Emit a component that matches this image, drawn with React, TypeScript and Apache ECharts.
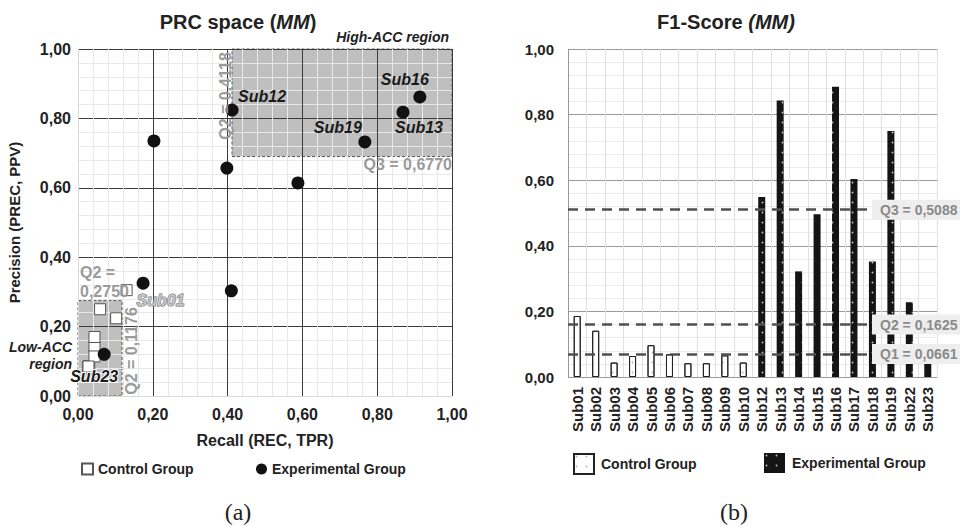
import React, { useEffect, useRef } from "react";
import * as echarts from "echarts";

const FONT = "'Liberation Sans', Arial, Helvetica, sans-serif";

// ---- PRC space data ----
const controlNames = ["Sub01", "Sub02", "Sub03", "Sub04", "Sub05", "Sub06", "Sub07", "Sub08", "Sub09", "Sub10"];
const controlRecall = [0.13, 0.102, 0.028, 0.044, 0.059, 0.044, 0.028, 0.03, 0.044, 0.028];
const controlPrecision = [0.305, 0.224, 0.085, 0.142, 0.25, 0.17, 0.085, 0.08, 0.114, 0.085];

const expNames = ["Sub12", "Sub13", "Sub14", "Sub15", "Sub16", "Sub17", "Sub18", "Sub19", "Sub22", "Sub23"];
const expRecall = [0.412, 0.869, 0.203, 0.398, 0.914, 0.588, 0.41, 0.767, 0.174, 0.07];
const expPrecision = [0.824, 0.818, 0.735, 0.657, 0.862, 0.614, 0.303, 0.732, 0.325, 0.12];

const highAccX = [0.4118, 1.0];
const highAccY = [0.69, 1.0];
const lowAccX = [0, 0.1176];
const lowAccY = [0, 0.275];

// ---- F1 data ----
const subjects = [...controlNames, ...expNames];
const f1Control = [0.186, 0.141, 0.044, 0.064, 0.097, 0.069, 0.042, 0.042, 0.066, 0.044];
const f1Exp = [0.549, 0.843, 0.322, 0.496, 0.885, 0.604, 0.352, 0.75, 0.228, 0.092];
const quartileNames = ["Q3", "Q2", "Q1"];
const quartileValues = [0.5088, 0.1625, 0.0661];

const comma = (v: number, d = 2) => v.toFixed(d).replace(".", ",");

const labelOffsets: Record<string, number[]> = {
  Sub12: [30, -14],
  Sub16: [-15, -17],
  Sub13: [16, 15],
  Sub19: [-27, -14],
  Sub23: [-10, 22],
  Sub01: [34, 10],
};

export default function App() {
  const ref = useRef<HTMLDivElement>(null);
  useEffect(() => {
    if (!ref.current) return;
    const chart = echarts.init(ref.current, null, { renderer: "svg" });

    const gray = "#9a9a9a";
    const darkLine = "#3a3a3a";
    const axisLabel = {
      fontFamily: FONT,
      fontWeight: "bold",
      fontSize: 16,
      color: "#222",
      formatter: (v: number) => comma(v),
    };

    const controlData = controlRecall.map((r, i) => {
      const n = controlNames[i];
      const d: any = { value: [r, controlPrecision[i]], name: n };
      if (labelOffsets[n]) {
        d.label = {
          show: true,
          position: "inside",
          offset: labelOffsets[n],
          formatter: n,
          fontFamily: FONT,
          fontStyle: "italic",
          fontWeight: "bold",
          fontSize: 16,
          color: "#c4c4c4",
          textBorderColor: "#6a6a6a",
          textBorderWidth: 1,
        };
      }
      return d;
    });
    const expData = expRecall.map((r, i) => {
      const n = expNames[i];
      const d: any = { value: [r, expPrecision[i]], name: n };
      if (labelOffsets[n]) {
        d.label = {
          show: true,
          position: "inside",
          offset: labelOffsets[n],
          formatter: n,
          fontFamily: FONT,
          fontStyle: "italic",
          fontWeight: "bold",
          fontSize: 16,
          color: "#1a1a1a",
          textBorderColor: n === "Sub23" ? "#fff" : "transparent",
          textBorderWidth: n === "Sub23" ? 2 : 0,
        };
      }
      return d;
    });

    const catSplitColors = subjects.map((_, i) => (i === 0 ? "#999" : "#e0e0e0"));
    catSplitColors.push("#e0e0e0");

    const annot = (text: string, x: number, y: number, extra: any = {}) => ({
      type: "text",
      x,
      y,
      z: 100,
      style: {
        text,
        fontFamily: FONT,
        fontWeight: "bold",
        fontSize: 16,
        fill: gray,
        textAlign: "left",
        textVerticalAlign: "middle",
        ...extra,
      },
    });

    const option: any = {
      animation: false,
      backgroundColor: "#fff",
      grid: [
        { left: 78, top: 49, width: 374, height: 347 },
        { left: 568, top: 49, width: 369, height: 328 },
      ],
      xAxis: [
        {
          gridIndex: 0,
          type: "value",
          min: 0,
          max: 1,
          interval: 0.2,
          z: 3,
          axisLine: { show: false },
          axisTick: { show: false },
          axisLabel: { ...axisLabel, margin: 10 },
          splitLine: { show: true, lineStyle: { color: ["#d8d8d8", darkLine, darkLine, darkLine, darkLine, darkLine], width: 1 } },
          minorTick: { show: false, splitNumber: 5 },
          minorSplitLine: { show: true, lineStyle: { color: "#e8e8e8", width: 1 } },
          name: "Recall (REC, TPR)",
          nameLocation: "middle",
          nameGap: 36,
          nameTextStyle: { fontFamily: FONT, fontWeight: "bold", fontSize: 16, color: "#222" },
        },
        {
          gridIndex: 1,
          type: "category",
          data: subjects,
          axisLine: { show: false },
          axisTick: { show: false },
          axisLabel: {
            rotate: 90,
            interval: 0,
            margin: 10,
            fontFamily: FONT,
            fontWeight: "bold",
            fontSize: 15,
            color: "#222",
          },
          splitLine: { show: true, interval: 0, lineStyle: { color: catSplitColors, width: 1 } },
        },
      ],
      yAxis: [
        {
          gridIndex: 0,
          type: "value",
          min: 0,
          max: 1,
          interval: 0.2,
          z: 3,
          axisLine: { show: false },
          axisTick: { show: false },
          axisLabel: { ...axisLabel, margin: 7 },
          splitLine: { show: true, lineStyle: { color: ["#d8d8d8", darkLine, darkLine, darkLine, darkLine, darkLine], width: 1 } },
          minorTick: { show: false, splitNumber: 5 },
          minorSplitLine: { show: true, lineStyle: { color: "#e8e8e8", width: 1 } },
          name: "Precision (PREC, PPV)",
          nameLocation: "middle",
          nameGap: 56,
          nameTextStyle: { fontFamily: FONT, fontWeight: "bold", fontSize: 15, color: "#222" },
        },
        {
          gridIndex: 1,
          type: "value",
          min: 0,
          max: 1,
          interval: 0.2,
          axisLine: { show: false },
          axisTick: { show: false },
          axisLabel: { ...axisLabel, fontSize: 15, margin: 14 },
          splitLine: { show: true, lineStyle: { color: "#9a9a9a", width: 1 } },
          minorTick: { show: false, splitNumber: 5 },
          minorSplitLine: { show: true, lineStyle: { color: "#ececec", width: 1 } },
        },
      ],
      legend: [
        {
          data: ["Control Group"],
          left: 76,
          top: 457,
          itemWidth: 11,
          itemHeight: 11,
          textStyle: { fontFamily: FONT, fontWeight: "bold", fontSize: 14, color: "#222" },
          selectedMode: false,
        },
        {
          data: ["Experimental Group"],
          left: 251,
          top: 457,
          itemWidth: 11,
          itemHeight: 11,
          textStyle: { fontFamily: FONT, fontWeight: "bold", fontSize: 14, color: "#222" },
          selectedMode: false,
        },
        {
          data: [{ name: "barControl", icon: "rect" }],
          left: 568,
          top: 448,
          itemWidth: 20,
          itemHeight: 20,
          formatter: () => "Control Group",
          textStyle: { fontFamily: FONT, fontWeight: "bold", fontSize: 14, color: "#222", padding: [0, 0, 0, 2] },
          selectedMode: false,
        },
        {
          data: [{ name: "barExp", icon: "rect" }],
          left: 759,
          top: 448,
          itemWidth: 21,
          itemHeight: 20,
          formatter: () => "Experimental Group",
          textStyle: { fontFamily: FONT, fontWeight: "bold", fontSize: 14, color: "#222", padding: [0, 0, 0, 2] },
          selectedMode: false,
        },
      ],
      series: [
        {
          name: "regions",
          type: "scatter",
          xAxisIndex: 0,
          yAxisIndex: 0,
          data: [],
          z: 1,
          silent: true,
          markArea: {
            silent: true,
            itemStyle: { color: "#bfbfbf", borderColor: "#555", borderType: [3, 2], borderWidth: 1 },
            data: [
              [{ coord: [highAccX[0], highAccY[0]] }, { coord: [highAccX[1], highAccY[1]] }],
              [{ coord: [lowAccX[0], lowAccY[0]] }, { coord: [lowAccX[1], lowAccY[1]] }],
            ],
          },
        },
        {
          name: "Control Group",
          type: "scatter",
          xAxisIndex: 0,
          yAxisIndex: 0,
          symbol: "rect",
          symbolSize: 11,
          z: 5,
          itemStyle: { color: "#fff", borderColor: "#555", borderWidth: 1, opacity: 1 },
          data: controlData,
        },
        {
          name: "Experimental Group",
          type: "scatter",
          xAxisIndex: 0,
          yAxisIndex: 0,
          symbol: "circle",
          symbolSize: 13,
          z: 6,
          itemStyle: { color: "#111", opacity: 1 },
          data: expData,
        },
        {
          name: "barControl",
          type: "bar",
          xAxisIndex: 1,
          yAxisIndex: 1,
          stack: "f1",
          barWidth: 7,
          itemStyle: {
            color: "#fff",
            borderColor: "#222",
            borderWidth: 1,
            decal: { symbol: "circle", symbolSize: 0.35, color: "rgba(0,0,0,0.3)", dashArrayX: 5, dashArrayY: 5, rotation: 0 },
          },
          data: [...f1Control, ...f1Exp.map(() => null)],
        },
        {
          name: "barExp",
          type: "bar",
          xAxisIndex: 1,
          yAxisIndex: 1,
          stack: "f1",
          barWidth: 7,
          itemStyle: {
            color: "#141414",
            decal: { symbol: "circle", symbolSize: 0.35, color: "rgba(255,255,255,0.75)", dashArrayX: 5, dashArrayY: 5, rotation: 0 },
          },
          data: [...f1Control.map(() => null), ...f1Exp],
          markLine: {
            silent: true,
            symbol: ["none", "none"],
            lineStyle: { type: [10, 7], color: "#505050", width: 2.5 },
            label: {
              show: true,
              position: "end",
              offset: [-70, 0],
              backgroundColor: "#eeeeee",
              padding: [3, 10, 3, 8],
              fontFamily: FONT,
              fontWeight: "bold",
              fontSize: 14,
              color: "#8a8a8a",
            },
            data: quartileValues.map((v, i) => ({
              yAxis: v,
              name: quartileNames[i],
              label: { formatter: `${quartileNames[i]} = ${comma(v, 4)}` },
            })),
          },
        },
      ],
      graphic: [
        {
          type: "text",
          x: 238,
          y: 22,
          style: {
            text: "{a|PRC space (}{b|MM}{a|)}",
            textAlign: "center",
            textVerticalAlign: "middle",
            rich: {
              a: { fontFamily: FONT, fontWeight: "bold", fontSize: 20, fill: "#222" },
              b: { fontFamily: FONT, fontWeight: "bold", fontStyle: "italic", fontSize: 20, fill: "#222" },
            },
          },
        },
        {
          type: "text",
          x: 726,
          y: 22,
          style: {
            text: "{a|F1-Score }{b|(MM)}",
            textAlign: "center",
            textVerticalAlign: "middle",
            rich: {
              a: { fontFamily: FONT, fontWeight: "bold", fontSize: 20, fill: "#222" },
              b: { fontFamily: FONT, fontWeight: "bold", fontStyle: "italic", fontSize: 20, fill: "#222" },
            },
          },
        },
        annot("High-ACC region", 449, 37, { fill: "#222", fontStyle: "italic", fontSize: 14, textAlign: "right" }),
        annot("Q3 = 0,6770", 452, 164, { textAlign: "right" }),
        { ...annot("Q2 = 0,4118", 225, 96, { textAlign: "center" }), rotation: Math.PI / 2 },
        annot("Q2 =", 80, 272),
        annot("0,2750", 80, 291),
        { ...annot("Q2 = 0,1176", 131, 351, { textAlign: "center" }), rotation: Math.PI / 2 },
        annot("Low-ACC", 72, 347, { fill: "#222", fontStyle: "italic", fontSize: 14, textAlign: "right" }),
        annot("region", 72, 364, { fill: "#222", fontStyle: "italic", fontSize: 14, textAlign: "right" }),
        {
          type: "text",
          x: 238,
          y: 512,
          style: { text: "(a)", fontFamily: "'Liberation Serif', 'DejaVu Serif', serif", fontSize: 24, fill: "#222", textAlign: "center", textVerticalAlign: "middle" },
        },
        {
          type: "text",
          x: 734,
          y: 512,
          style: { text: "(b)", fontFamily: "'Liberation Serif', 'DejaVu Serif', serif", fontSize: 24, fill: "#222", textAlign: "center", textVerticalAlign: "middle" },
        },
      ],
    };

    chart.setOption(option);
    return () => chart.dispose();
  }, []);

  return (
    <div
      ref={ref}
      style={{ position: "fixed", left: 0, top: 0, width: 960, height: 526, background: "#fff" }}
    />
  );
}
